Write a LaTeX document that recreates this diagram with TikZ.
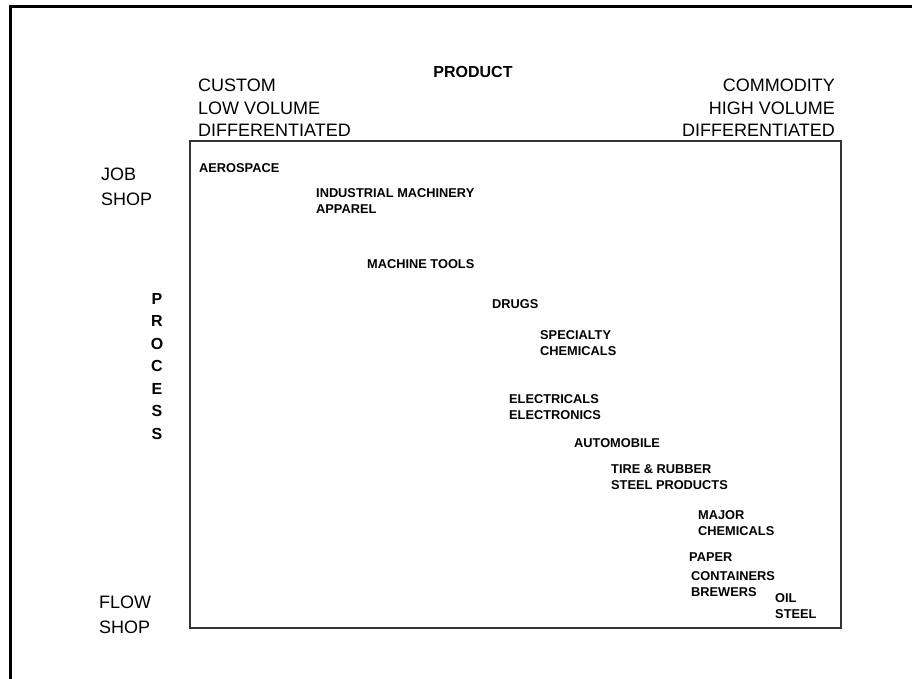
\documentclass[tikz,border=0pt]{standalone}
\usepackage{fontspec}
\setmainfont{Liberation Sans}
\usetikzlibrary{positioning}

\begin{document}
\begin{tikzpicture}[x=1pt,y=-1pt,
    axis/.style={inner sep=0pt,font=\fontsize{18}{22.5}\selectfont},
    shop/.style={inner sep=0pt,anchor=base west,align=left,font=\fontsize{18}{25}\selectfont},
    title/.style={inner sep=0pt,font=\bfseries\fontsize{16}{22.5}\selectfont},
    industry/.style={inner sep=0pt,anchor=base west,align=left,font=\bfseries\fontsize{12.8}{16}\selectfont}]
    \useasboundingbox (0,0) rectangle (912,679);
    \clip (0,0) rectangle (912,679);
    \draw[line width=3pt] (10,7) rectangle (1000,800);
    \draw[line width=1.2pt,black!80] (190,141) rectangle (841,628);
    % axes (multi-line nodes sit on their last baseline)
    \node[title,anchor=base] (product) at (473,78) {PRODUCT};
    \node[axis,anchor=base west,align=left] (custom) at (198,137) {CUSTOM\\LOW VOLUME\\DIFFERENTIATED};
    \node[axis,anchor=base east,align=right] (commodity) at (835,137) {COMMODITY\\HIGH VOLUME\\DIFFERENTIATED};
    \node[shop] (job) at (101,205) {JOB\\SHOP};
    \node[shop] (flow) at (99,633) {FLOW\\SHOP};
    \node[title,anchor=base,align=center] (process) at (157,439) {P\\R\\O\\C\\E\\S\\S};
    % industries
    \node[industry] (aerospace) at (199,173) {AEROSPACE};
    \node[industry] (machinery) at (316,213) {INDUSTRIAL MACHINERY\\APPAREL};
    \node[industry] (tools) at (367,268) {MACHINE TOOLS};
    \node[industry] (drugs) at (492,308) {DRUGS};
    \node[industry] (specialty) at (540,355) {SPECIALTY\\CHEMICALS};
    \node[industry] (electricals) at (509,419) {ELECTRICALS\\ELECTRONICS};
    \node[industry] (automobile) at (574,447) {AUTOMOBILE};
    \node[industry] (tire) at (611,489) {TIRE \& RUBBER\\STEEL PRODUCTS};
    \node[industry] (major) at (698,535) {MAJOR\\CHEMICALS};
    \node[industry] (paper) at (689,561) {PAPER};
    \node[industry] (containers) at (691,596) {CONTAINERS\\BREWERS};
    \node[industry] (oil) at (775,618) {OIL\\STEEL};
\end{tikzpicture}
\end{document}
